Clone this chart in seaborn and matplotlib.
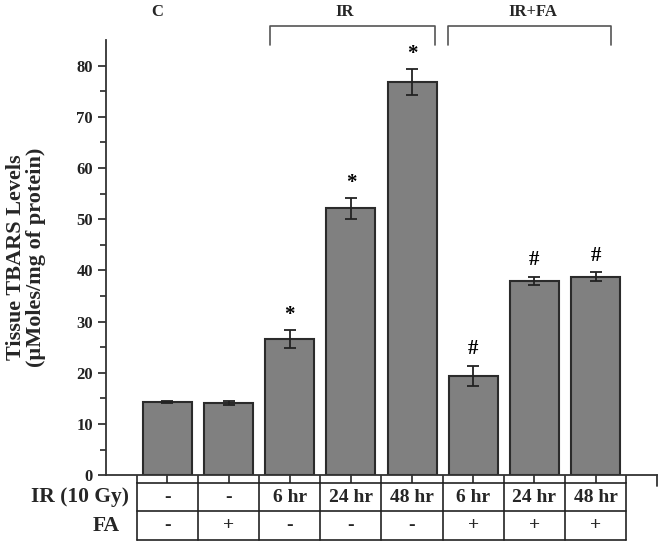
import numpy as np
import matplotlib
matplotlib.use('Agg')
import matplotlib.pyplot as plt
import seaborn as sns

# values
groups = ["C", "FA", "IR 6", "IR 24", "IR 48", "IR+FA 6", "IR+FA 24", "IR+FA 48"]
tbars = [14.3, 14.0, 26.6, 52.1, 76.8, 19.4, 38.0, 38.8]
sem = [0.15, 0.4, 1.7, 2.0, 2.5, 2.0, 0.8, 0.8]
marks = ["", "", "*", "*", "*", "#", "#", "#"]

ir_row = ["-", "-", "6 hr", "24 hr", "48 hr", "6 hr", "24 hr", "48 hr"]
fa_row = ["-", "+", "-", "-", "-", "+", "+", "+"]

sns.set_style("ticks")
plt.rcParams['font.family'] = ['Liberation Serif', 'DejaVu Serif']
plt.rcParams['font.weight'] = 'bold'

fig = plt.figure(figsize=(6.64, 5.48), dpi=100)
ax = fig.add_axes([0.160, 0.133, 0.829, 0.794])

sns.barplot(x=groups, y=tbars, color="#808080", saturation=1, width=0.8,
            edgecolor="#2b2b2b", linewidth=1.5, errorbar=None, ax=ax)
ax.errorbar(np.arange(len(tbars)), tbars, yerr=sem, fmt='none', ecolor='#222222',
            elinewidth=1.3, capsize=4, capthick=1.3)

for i, m in enumerate(marks):
    if not m:
        continue
    off = 1.1 if m == "*" else 2.2
    ax.text(i, tbars[i] + sem[i] + off, m, ha='center', va='baseline' if m == "#" else 'bottom',
            fontsize=15, fontweight='bold', color='black')

ax.set_xlim(-1, 8)
ax.set_ylim(0, 85)
ax.set_yticks(np.arange(0, 81, 10))
ax.set_yticks(np.arange(5, 85, 10), minor=True)
ax.set_xticks(np.arange(0, 8))
ax.set_xticks(np.arange(-0.5, 8, 1.0), minor=True)
ax.set_xticklabels([])
ax.tick_params(axis='y', which='major', length=6, width=1.2, direction='out', labelsize=12, colors='#222222')
ax.tick_params(axis='y', which='minor', length=4, width=1.2, direction='out')
ax.tick_params(axis='x', which='both', length=6, width=1.2, direction='out')
for lab in ax.get_yticklabels():
    lab.set_fontweight('bold')
sns.despine(ax=ax)
for s in ['left', 'bottom']:
    ax.spines[s].set_linewidth(1.3)
    ax.spines[s].set_color('#333333')

ax.set_xlabel("")
ax.set_ylabel("Tissue TBARS Levels\n(\u00b5Moles/mg of protein)", fontsize=16, fontweight='bold',
              linespacing=0.95)
ax.yaxis.set_label_coords(-0.11, 0.5)

xt = ax.get_xaxis_transform()
# tick at the far right end of the x axis
ax.plot([8, 8], [0, -0.025], transform=xt, color='#333333', lw=1.3, clip_on=False)

# table below the axis
y_top, y_mid, y_bot = -0.0184, -0.0828, -0.149
edges = np.arange(-0.5, 8, 1.0)
for yy in (y_top, y_mid, y_bot):
    ax.plot([edges[0], edges[-1]], [yy, yy], transform=xt, color='#222222', lw=1.2, clip_on=False)
for xx in edges:
    ax.plot([xx, xx], [y_top, y_bot], transform=xt, color='#222222', lw=1.2, clip_on=False)
for i in range(len(groups)):
    ax.text(i, (y_top + y_mid) / 2, ir_row[i], transform=xt, ha='center', va='center',
            fontsize=14, fontweight='bold')
    ax.text(i, (y_mid + y_bot) / 2, fa_row[i], transform=xt, ha='center', va='center',
            fontsize=14, fontweight='bold')
ax.text(-0.63, (y_top + y_mid) / 2, "IR (10 Gy)", transform=xt, ha='right', va='center',
        fontsize=15.5, fontweight='bold')
ax.text(-0.78, (y_mid + y_bot) / 2, "FA", transform=xt, ha='right', va='center',
        fontsize=15.5, fontweight='bold')

# group brackets and labels on top
for x0, x1 in [(1.68, 4.37), (4.58, 7.26)]:
    ax.plot([x0, x0, x1, x1], [84.1, 87.7, 87.7, 84.1], color='#555555', lw=1.2, clip_on=False)
for x, lab in [(-0.16, "C"), (2.9, "IR"), (5.97, "IR+FA")]:
    ax.text(x, 90.5, lab, ha='center', va='center', fontsize=12, fontweight='bold')

fig.savefig("out.png", dpi=100)
